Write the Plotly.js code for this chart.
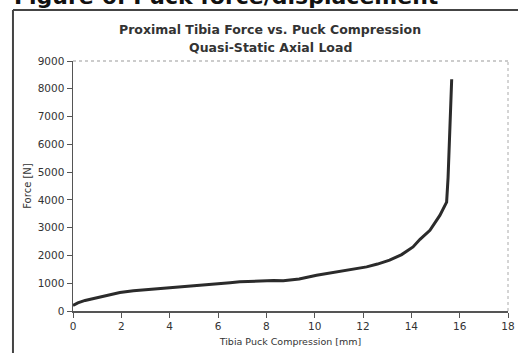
<!DOCTYPE html>
<html>
<head>
<meta charset="utf-8">
<script src="https://cdn.plot.ly/plotly-3.0.1.min.js"></script>
<style>html,body{margin:0;padding:0;background:#fff;}#chart{width:518px;height:353px;}</style>
</head>
<body>
<div id="chart"></div>
<script>
// Tibia puck compression [mm]
var compression = [0, 0.2, 0.5, 0.84, 1.3, 1.94, 2.5, 2.91, 3.5, 4.0, 4.5, 4.98, 5.5, 5.95, 6.5, 6.9, 7.4, 7.87, 8.3, 8.7, 9.36, 10.08, 10.6, 11.1, 11.6, 12.15, 12.6, 13.1, 13.6, 14.07, 14.36, 14.77, 15.18, 15.35, 15.46, 15.52, 15.57, 15.62, 15.67];
// Force [N]
var force = [200, 290, 380, 450, 560, 667, 730, 770, 805, 833, 865, 897, 935, 974, 1015, 1050, 1075, 1090, 1095, 1085, 1150, 1290, 1360, 1420, 1490, 1588, 1690, 1828, 2030, 2305, 2580, 2903, 3440, 3700, 3920, 4800, 5800, 7000, 8345];
var xTicks = [0, 2, 4, 6, 8, 10, 12, 14, 16, 18];
var yTicks = [0, 1000, 2000, 3000, 4000, 5000, 6000, 7000, 8000, 9000];
var figureTitle = "Figure 6: Puck force/displacement";
var chartTitle1 = "Proximal Tibia Force vs. Puck Compression";
var chartTitle2 = "Quasi-Static Axial Load";
var xTitle = "Tibia Puck Compression [mm]";
var yTitle = "Force [N]";

var trace = {
  x: compression, y: force, type: 'scatter', mode: 'lines',
  line: {color: '#2b2b2b', width: 3}, hoverinfo: 'none'
};
var font = 'DejaVu Sans, Verdana, sans-serif';
var layout = {
  width: 518, height: 353,
  margin: {l: 73, r: 10, t: 61, b: 42},
  paper_bgcolor: '#ffffff', plot_bgcolor: '#ffffff',
  showlegend: false,
  font: {family: font, color: '#333'},
  xaxis: {
    range: [0, 18], tickvals: xTicks, ticktext: xTicks.map(String),
    showgrid: false, zeroline: false, showline: true, linecolor: '#555', linewidth: 1.5,
    ticks: 'outside', ticklen: 5, tickcolor: '#555',
    tickfont: {size: 10.5, color: '#333', family: font},
    title: {text: xTitle, font: {size: 9.5, color: '#333', family: font}, standoff: 7}
  },
  yaxis: {
    range: [0, 9000], tickvals: yTicks, ticktext: yTicks.map(String),
    showgrid: false, zeroline: false, showline: true, linecolor: '#555', linewidth: 1.5,
    ticks: 'outside', ticklen: 5, tickcolor: '#555',
    tickfont: {size: 10.5, color: '#333', family: font},
    title: {text: yTitle, font: {size: 10, color: '#333', family: font}, standoff: 4}
  },
  shapes: [
    {type: 'line', xref: 'paper', yref: 'paper', x0: 0, x1: 1, y0: 1, y1: 1, line: {color: '#999', width: 1, dash: 'dot'}},
    {type: 'line', xref: 'paper', yref: 'paper', x0: 1, x1: 1, y0: 0, y1: 1, line: {color: '#aaa', width: 1, dash: 'dot'}},
    {type: 'line', xref: 'paper', yref: 'paper', x0: -0.138, x1: 1.03, y0: 1.204, y1: 1.204, line: {color: '#444', width: 2}},
    {type: 'line', xref: 'paper', yref: 'paper', x0: -0.138, x1: -0.138, y0: 1.204, y1: -0.2, line: {color: '#444', width: 2}}
  ],
  annotations: [
    {text: '<b>' + figureTitle + '</b>', xref: 'paper', yref: 'paper', x: -0.141, y: 1.258, xanchor: 'left', yanchor: 'middle', showarrow: false, font: {size: 22, color: '#111', family: font}},
    {text: '<b>' + chartTitle1 + '</b>', xref: 'paper', yref: 'paper', x: 0.453, y: 1.128, xanchor: 'center', yanchor: 'middle', showarrow: false, font: {size: 12.5, color: '#333', family: font}},
    {text: '<b>' + chartTitle2 + '</b>', xref: 'paper', yref: 'paper', x: 0.453, y: 1.052, xanchor: 'center', yanchor: 'middle', showarrow: false, font: {size: 12.5, color: '#333', family: font}}
  ]
};
Plotly.newPlot('chart', [trace], layout, {staticPlot: true, displayModeBar: false});
</script>
</body>
</html>
